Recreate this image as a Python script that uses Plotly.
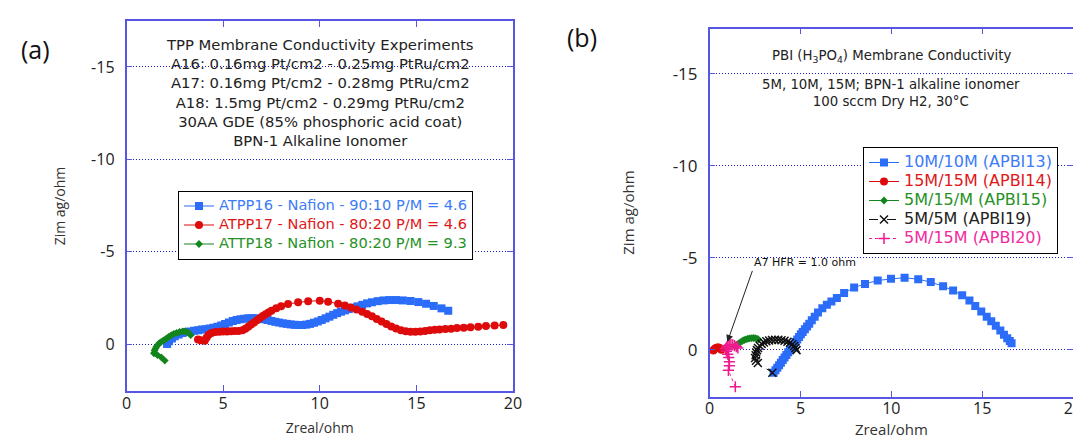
import plotly.graph_objects as go

# ---------------- data: panel (a) ----------------
A_NAMES = ["ATPP16 - Nafion - 90:10 P/M = 4.6",
           "ATPP17 - Nafion - 80:20 P/M = 4.6",
           "ATTP18 - Nafion - 80:20 P/M = 9.3"]

A16_x = [2.1, 2.2, 2.35, 2.5, 2.7, 2.9, 3.1, 3.3, 3.5, 3.7,
         3.9, 4.1, 4.3, 4.5, 4.7, 4.9, 5.1, 5.3, 5.5, 5.7,
         5.9, 6.1, 6.3, 6.5, 6.7, 6.9, 7.1, 7.3, 7.5, 7.7,
         7.9, 8.1, 8.3, 8.5, 8.7, 8.9, 9.1, 9.3, 9.5, 9.7,
         9.9, 10.1, 10.3, 10.5, 10.7, 10.9, 11.1, 11.3, 11.5, 11.7,
         11.95, 12.2, 12.45, 12.7, 13.0, 13.3, 13.6, 13.95, 14.3, 14.7,
         15.1, 15.5, 15.9, 16.3, 16.65]
A16_y = [0.0, -0.15, -0.3, -0.42, -0.52, -0.6, -0.65, -0.68, -0.72, -0.75,
         -0.78, -0.8, -0.84, -0.88, -0.93, -1.0, -1.08, -1.16, -1.24, -1.3,
         -1.34, -1.37, -1.39, -1.4, -1.39, -1.37, -1.34, -1.3, -1.25, -1.2,
         -1.16, -1.12, -1.09, -1.06, -1.04, -1.03, -1.03, -1.05, -1.09, -1.15,
         -1.22, -1.3, -1.39, -1.48, -1.58, -1.67, -1.75, -1.82, -1.89, -1.96,
         -2.04, -2.12, -2.2, -2.26, -2.32, -2.36, -2.38, -2.38, -2.36, -2.33,
         -2.27, -2.18, -2.06, -1.93, -1.8]

A17_x = [3.7, 3.85, 4.05, 4.15, 4.25, 4.4, 4.6, 4.8, 5.0, 5.2,
         5.4, 5.6, 5.8, 6.0, 6.15, 6.3, 6.45, 6.6, 6.75, 6.9,
         7.05, 7.2, 7.35, 7.5, 7.75, 8.0, 8.36, 8.88, 9.4, 10.0,
         10.43, 10.95, 11.3, 11.6, 11.9, 12.2, 12.45, 12.7, 12.95, 13.2,
         13.45, 13.7, 13.95, 14.2, 14.45, 14.7, 14.95, 15.2, 15.45, 15.7,
         15.95, 16.2, 16.5, 16.8, 17.1, 17.45, 17.8, 18.2, 18.6, 19.05,
         19.5]
A17_y = [-0.25, -0.2, -0.18, -0.35, -0.5, -0.6, -0.65, -0.67, -0.68, -0.68,
         -0.69, -0.7, -0.71, -0.74, -0.82, -0.93, -1.05, -1.16, -1.28, -1.4,
         -1.51, -1.61, -1.71, -1.8, -1.93, -2.05, -2.17, -2.26, -2.32, -2.34,
         -2.29, -2.18, -2.08, -1.98, -1.87, -1.75, -1.63, -1.5, -1.36, -1.22,
         -1.08, -0.95, -0.84, -0.75, -0.69, -0.66, -0.66, -0.68, -0.71, -0.74,
         -0.77, -0.79, -0.81, -0.83, -0.86, -0.88, -0.91, -0.94, -0.97, -1.0,
         -1.03]

A18_x = [1.98, 1.8, 1.6, 1.42, 1.45, 1.5, 1.55, 1.62, 1.7, 1.8, 1.9,
         2.0, 2.1, 2.2, 2.32, 2.45, 2.6, 2.75, 2.9, 3.05, 3.2, 3.32]
A18_y = [0.9, 0.72, 0.6, 0.5, 0.35, 0.25, 0.15, 0.05, -0.05, -0.12, -0.18,
         -0.25, -0.32, -0.4, -0.48, -0.55, -0.6, -0.65, -0.68, -0.69, -0.62, -0.48]

A_NOTE = ["TPP Membrane Conductivity Experiments",
          "A16: 0.16mg Pt/cm2 - 0.25mg PtRu/cm2",
          "A17: 0.16mg Pt/cm2 - 0.28mg PtRu/cm2",
          "A18: 1.5mg Pt/cm2 - 0.29mg PtRu/cm2",
          "30AA GDE (85% phosphoric acid coat)",
          "BPN-1 Alkaline Ionomer"]

# ---------------- data: panel (b) ----------------
B_NAMES = ["10M/10M (APBI13)", "15M/15M (APBI14)", "5M/15/M (APBI15)",
           "5M/5M (APBI19)", "5M/15M (APBI20)"]

B13_x = [3.52, 3.62, 3.72, 3.82, 3.92, 4.02, 4.12, 4.22, 4.32, 4.42,
         4.52, 4.62, 4.72, 4.82, 4.92, 5.02, 5.12, 5.24, 5.36, 5.48,
         5.62, 5.78, 5.96, 6.2, 6.45, 6.7, 7.0, 7.4, 7.95, 8.55,
         9.25, 9.98, 10.73, 11.48, 12.17, 12.85, 13.4, 13.9, 14.3, 14.62,
         14.95, 15.25, 15.5, 15.75, 16.0, 16.2, 16.38, 16.52, 16.62]
B13_y = [1.25, 1.12, 0.98, 0.84, 0.70, 0.56, 0.42, 0.28, 0.14, 0.0,
         -0.14, -0.28, -0.42, -0.56, -0.70, -0.84, -0.97, -1.12, -1.27, -1.42,
         -1.6, -1.8, -2.02, -2.25, -2.45, -2.62, -2.82, -3.08, -3.38, -3.58,
         -3.77, -3.86, -3.92, -3.83, -3.68, -3.45, -3.22, -2.96, -2.68, -2.38,
         -2.08, -1.8, -1.55, -1.3, -1.05, -0.82, -0.63, -0.47, -0.36]

B14_x = [0.2, 0.25, 0.3, 0.36, 0.42, 0.48, 0.54, 0.6, 0.65]
B14_y = [0.04, -0.02, -0.07, -0.1, -0.12, -0.12, -0.1, -0.06, 0.0]

B15_x = [1.4, 1.5, 1.6, 1.7, 1.8, 1.9, 2.0, 2.1, 2.2, 2.3, 2.4, 2.5, 2.6, 2.68]
B15_y = [-0.2, -0.28, -0.35, -0.42, -0.48, -0.53, -0.57, -0.6, -0.62, -0.63,
         -0.64, -0.63, -0.6, -0.56]

B19_x = [4.78, 4.72, 4.65, 4.55, 4.42, 4.28, 4.12, 3.95, 3.78, 3.6,
         3.43, 3.27, 3.12, 2.98, 2.86, 2.75, 2.66, 2.6, 2.56, 2.53,
         2.5, 2.55, 2.65, 3.45]
B19_y = [0.02, -0.1, -0.2, -0.3, -0.38, -0.44, -0.49, -0.52, -0.54, -0.54,
         -0.53, -0.5, -0.46, -0.4, -0.32, -0.22, -0.1, 0.02, 0.15, 0.3,
         0.45, 0.6, 0.72, 1.25]

B20_x = [1.41, 1.03, 1.08, 1.08, 1.05, 0.99, 0.92, 0.88, 0.93, 1.0,
         1.08, 1.17, 1.27, 1.37, 1.47, 1.55]
B20_y = [2.01, 1.12, 0.87, 0.65, 0.42, 0.24, 0.08, -0.05, -0.15, -0.22,
         -0.26, -0.28, -0.27, -0.23, -0.17, -0.1]

B_NOTE_TITLE = "PBI (H<sub>3</sub>PO<sub>4</sub>) Membrane Conductivity"
B_NOTE = ["5M, 10M, 15M; BPN-1 alkaline ionomer", "100 sccm Dry H2, 30°C"]
B_ARROW_TEXT = "A7 HFR = 1.0 ohm"
B_ARROW_HEAD = (0.97, -0.42)   # Zreal, Zimag of the point the arrow marks
B_ARROW_TAIL = (2.35, -4.29)

X_TICKS = [0, 5, 10, 15, 20]
Y_TICKS = [-15, -10, -5, 0]
Y_TICKTEXT = ["-15", "-10", "-5", "0"]
X_TITLE = "Zreal/ohm"
Y_TITLE = "Zim ag/ohm"

# ---------------- styling ----------------
W, H = 1081, 439
FRAME = "#5656e2"
GRID = "#1c1cd0"
BLUE, RED, GREEN, BLACK, PINK = "#2b6cf8", "#dd0b0b", "#12851c", "#111111", "#ef1b8e"
TXT_BLUE, TXT_RED, TXT_GREEN, TXT_BLACK, TXT_PINK = "#3d7cf7", "#e01818", "#259225", "#222222", "#f22aa0"


def px_x(p):
    return p / W


def px_y(p):
    return 1 - p / H


fig = go.Figure()


def add(x, y, name, color, txtcolor, tsize, symbol, msize, xa, ya, legend,
        dash="solid", thin=False):
    marker = dict(symbol=symbol, size=msize, color=color)
    if thin:
        marker["line"] = dict(color=color, width=1.5)
    else:
        marker["line"] = dict(width=0)
    label = '<span style="color:%s;font-size:%spx">%s</span>' % (txtcolor, tsize, name)
    fig.add_trace(go.Scatter(x=x, y=y, mode="lines+markers", name=label,
                             line=dict(color=color, width=1, dash=dash),
                             marker=marker, xaxis=xa, yaxis=ya, legend=legend))


# panel (a)
add(A16_x, A16_y, A_NAMES[0], BLUE, TXT_BLUE, 14.6, "square", 8, "x", "y", "legend")
add(A17_x, A17_y, A_NAMES[1], RED, TXT_RED, 14.6, "circle", 8, "x", "y", "legend")
add(A18_x, A18_y, A_NAMES[2], GREEN, TXT_GREEN, 14.6, "diamond", 6, "x", "y", "legend")

# panel (b)
add(B13_x, B13_y, B_NAMES[0], BLUE, TXT_BLUE, 16, "square", 8, "x2", "y2", "legend2")
add(B14_x, B14_y, B_NAMES[1], RED, TXT_RED, 16, "circle", 8, "x2", "y2", "legend2")
add(B15_x, B15_y, B_NAMES[2], GREEN, TXT_GREEN, 16, "diamond", 6, "x2", "y2", "legend2")
add(B19_x, B19_y, B_NAMES[3], BLACK, TXT_BLACK, 16, "x-thin", 8, "x2", "y2", "legend2",
    dash="dash", thin=True)
add(B20_x, B20_y, B_NAMES[4], PINK, TXT_PINK, 16, "cross-thin", 8, "x2", "y2", "legend2",
    dash="dot", thin=True)


def xaxis(domain, anchor, fsize, tsize, standoff):
    return dict(domain=domain, anchor=anchor, range=[0, 20], tickvals=X_TICKS,
                ticktext=[str(v) for v in X_TICKS], automargin=False,
                showgrid=False, zeroline=False, showline=True, mirror="ticks",
                linecolor=FRAME, linewidth=1.5, ticks="inside", ticklen=6,
                tickcolor=FRAME, tickwidth=1, ticklabelstandoff=-3,
                tickfont=dict(family="Open Sans", size=fsize, color="#222"),
                title=dict(text=X_TITLE, standoff=standoff,
                           font=dict(family="Open Sans", size=tsize, color="#333")))


def yaxis(domain, anchor, rng, fsize, tsize, standoff):
    return dict(domain=domain, anchor=anchor, range=rng, tickvals=Y_TICKS,
                ticktext=Y_TICKTEXT, automargin=False,
                showgrid=True, gridcolor=GRID, griddash="1px,2px",
                gridwidth=1, zeroline=False, showline=True, mirror="ticks",
                linecolor=FRAME, linewidth=1.5, ticks="inside", ticklen=6,
                tickcolor=FRAME, tickwidth=1, ticklabelstandoff=7,
                tickfont=dict(family="Open Sans", size=fsize, color="#222"),
                title=dict(text=Y_TITLE, standoff=standoff,
                           font=dict(family="Open Sans", size=tsize, color="#333")))


fig.update_layout(
    width=W, height=H, margin=dict(l=0, r=0, t=0, b=0, autoexpand=False),
    paper_bgcolor="white", plot_bgcolor="white",
    xaxis=xaxis([px_x(118.5), px_x(505)], "y", 16, 14, 10),
    yaxis=yaxis([px_y(383), px_y(13)], "x", [2.545, -17.49], 16, 14, 22),
    xaxis2=xaxis([px_x(701.7), px_x(1065)], "y2", 16, 15, 2),
    yaxis2=yaxis([px_y(388.5), px_y(20.7)], "x2", [2.54, -17.45], 17, 15, 34),
    legend=dict(x=px_x(170), y=px_y(182.5), xanchor="left", yanchor="top",
                bgcolor="white", bordercolor="black", borderwidth=1,
                font=dict(family="DejaVu Sans", size=11, color="#222")),
    legend2=dict(x=px_x(855), y=px_y(139), xanchor="left", yanchor="top",
                 bgcolor="white", bordercolor="black", borderwidth=1,
                 font=dict(family="DejaVu Sans", size=11, color="#222")),
)

# panel labels
fig.add_annotation(x=px_x(27), y=px_y(41), xref="paper", yref="paper", text="(a)",
                   xanchor="center", yanchor="middle", showarrow=False,
                   font=dict(family="Open Sans", size=25, color="#111"))
fig.add_annotation(x=px_x(574), y=px_y(29), xref="paper", yref="paper", text="(b)",
                   xanchor="center", yanchor="middle", showarrow=False,
                   font=dict(family="Open Sans", size=25, color="#111"))

# panel (a) note
fig.add_annotation(x=10, y=-13.62, xref="x", yref="y", text="<br>".join(A_NOTE),
                   showarrow=False, align="center", yanchor="middle",
                   font=dict(family="DejaVu Sans", size=14.8, color="#222"))

# panel (b) notes
fig.add_annotation(x=10, y=-15.96, xref="x2", yref="y2", text=B_NOTE_TITLE,
                   showarrow=False, yanchor="middle",
                   font=dict(family="DejaVu Sans", size=13.3, color="#222"))
fig.add_annotation(x=10, y=-13.95, xref="x2", yref="y2", text="<br>".join(B_NOTE),
                   showarrow=False, yanchor="middle", align="center",
                   font=dict(family="DejaVu Sans", size=13.3, color="#222"))

# labelled arrow pointing at the high-frequency resistance
fig.add_annotation(x=B_ARROW_HEAD[0], y=B_ARROW_HEAD[1],
                   ax=B_ARROW_TAIL[0], ay=B_ARROW_TAIL[1],
                   xref="x2", yref="y2", axref="x2", ayref="y2",
                   text=B_ARROW_TEXT, xanchor="left", yanchor="bottom",
                   showarrow=True, arrowhead=2, arrowsize=1.4, arrowwidth=1,
                   arrowcolor="#222",
                   font=dict(family="DejaVu Sans", size=11, color="#111"))

fig.write_html("out.html")
